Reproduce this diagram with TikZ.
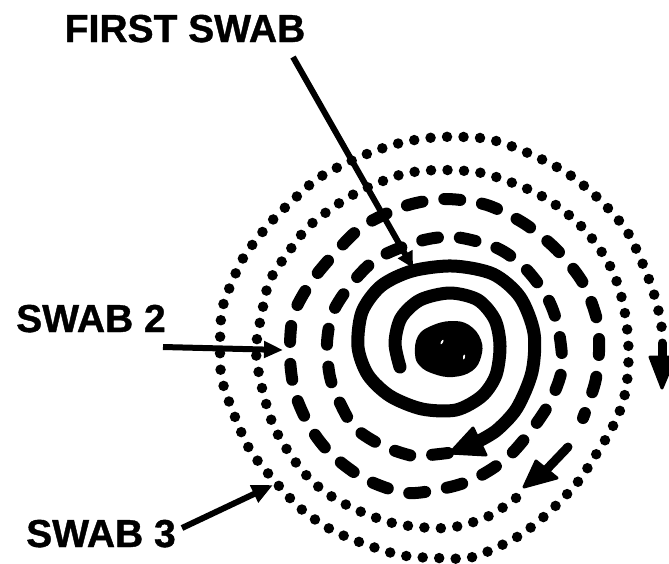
\documentclass[tikz,border=0pt]{standalone}
\usepackage{fontspec}
\setmainfont{Liberation Sans}
\newfontfamily\lblfont{Liberation Sans Bold}[FakeBold=1]
\usetikzlibrary{arrows.meta}
\begin{document}
\begin{tikzpicture}[x=1pt,y=-1pt,
  lbl/.style={font=\lblfont\fontsize{39}{40}\selectfont, inner sep=0pt, anchor=base},
  pointer/.style={line width=6pt, -{Triangle[length=16pt,width=16pt]}},
  swabone/.style={line width=13pt, line cap=round, line join=round},
  swabtwo/.style={line width=12pt, line cap=round, line join=round, dash pattern=on 16pt off 22pt},
  swabthree/.style={line width=10.5pt, line cap=round, dash pattern=on 0pt off 16.5pt},
  stem/.style={line width=9pt, line cap=round},
  head/.style={fill=black, draw=black, line width=3pt, line join=round}]
\useasboundingbox (0,0) rectangle (669,563);

% specimen in the middle
\fill[black] plot[smooth cycle, tension=0.7] coordinates {
  (415,354) (418,336) (431,326) (451,321) (469,325) (481,340)
  (481,357) (472,371) (453,377) (434,374) (420,366)};
\fill[white, rotate around={60:(442,342)}] (442,342) ellipse (2.5 and 1);
\fill[white, rotate around={80:(464,357)}] (464,357) ellipse (2.5 and 1);

% first swab: solid spiral
\draw[swabone] plot[smooth] coordinates {
  (400,367) (395,343) (401,318) (420,300) (450,293) (478,300) (495,320)
  (500,346) (496,375) (482,396) (456,410) (422,409) (390,396) (368,375)
  (358,347) (362,312) (381,286) (412,271) (453,266) (493,274) (520,297)
  (534,333) (532,372) (517,408) (497,430) (479,441)};
\coordinate (oneTip) at (450,453);
\coordinate (oneA) at (473,428);
\coordinate (oneB) at (486,455);
\filldraw[head] (oneTip) -- (oneA) -- (oneB) -- cycle;

% swab 2: dashed spiral
\draw[swabtwo] plot[smooth] coordinates {
  (448,453) (430,455) (413,456) (383,446) (355,428) (340,403) (330,377)
  (327,343) (333,312) (352,283) (378,258) (420,241) (455,237) (497,248)
  (525,268) (547,297) (558,327) (562,368) (550,402) (530,432) (507,458)
  (478,477) (450,487) (407,493) (365,479) (331,454) (310,427) (295,393)
  (290,357) (293,316) (311,282) (335,253) (363,226) (405,206) (445,199)
  (487,205) (525,224) (557,250) (583,283) (597,320) (599,352) (595,383)
  (583,418)};
\coordinate (twoStem) at (568,447);
\coordinate (twoBase) at (547,469);
\draw[stem] (twoStem) -- (twoBase);
\coordinate (twoTip) at (524,487);
\coordinate (twoA) at (536,461);
\coordinate (twoB) at (557,478);
\filldraw[head] (twoTip) -- (twoA) -- (twoB) -- cycle;

% swab 3: dotted spiral
\draw[swabthree] plot[smooth] coordinates {
  (516,498) (487,517) (447,528) (397,524) (357,510) (325,492) (300,468)
  (275,429) (262,388) (256,350) (262,312) (270,280) (290,250) (308,227)
  (335,206) (362,190) (403,174) (440,170) (482,173) (523,187) (550,201)
  (577,222) (597,245) (613,272) (623,303) (628,338) (628,372) (623,402)
  (612,428) (597,453) (577,483) (548,513) (517,537) (473,557) (437,558)
  (400,555) (362,543) (330,529) (300,508) (272,478) (250,450) (235,417)
  (222,380) (220,348) (222,310) (232,282) (245,255) (270,223) (292,201)
  (320,177) (362,156) (400,143) (440,137) (488,139) (528,153) (567,173)
  (600,200) (628,233) (650,282) (660,317) (662,333)};
\coordinate (threeStem) at (662,343);
\coordinate (threeBase) at (662,360);
\draw[stem] (threeStem) -- (threeBase);
\coordinate (threeTip) at (662,388);
\coordinate (threeA) at (650,357);
\coordinate (threeB) at (675,357);
\filldraw[head] (threeTip) -- (threeA) -- (threeB) -- cycle;

% labels
\node[lbl] (first) at (185,42) {FIRST SWAB};
\node[lbl] (second) at (91,332) {SWAB 2};
\node[lbl] (third) at (101,547) {SWAB 3};

% label pointers
\coordinate (firstFrom) at (293,57);
\coordinate (firstTo) at (413,268);
\draw[pointer] (firstFrom) -- (firstTo);
\coordinate (secondFrom) at (163,347);
\coordinate (secondTo) at (283,350);
\draw[pointer, -{Triangle[length=19pt,width=16pt]}] (secondFrom) -- (secondTo);
\coordinate (thirdFrom) at (182,528);
\coordinate (thirdTo) at (273,485);
\draw[pointer, -{Triangle[length=21pt,width=18pt]}] (thirdFrom) -- (thirdTo);
\end{tikzpicture}
\end{document}
